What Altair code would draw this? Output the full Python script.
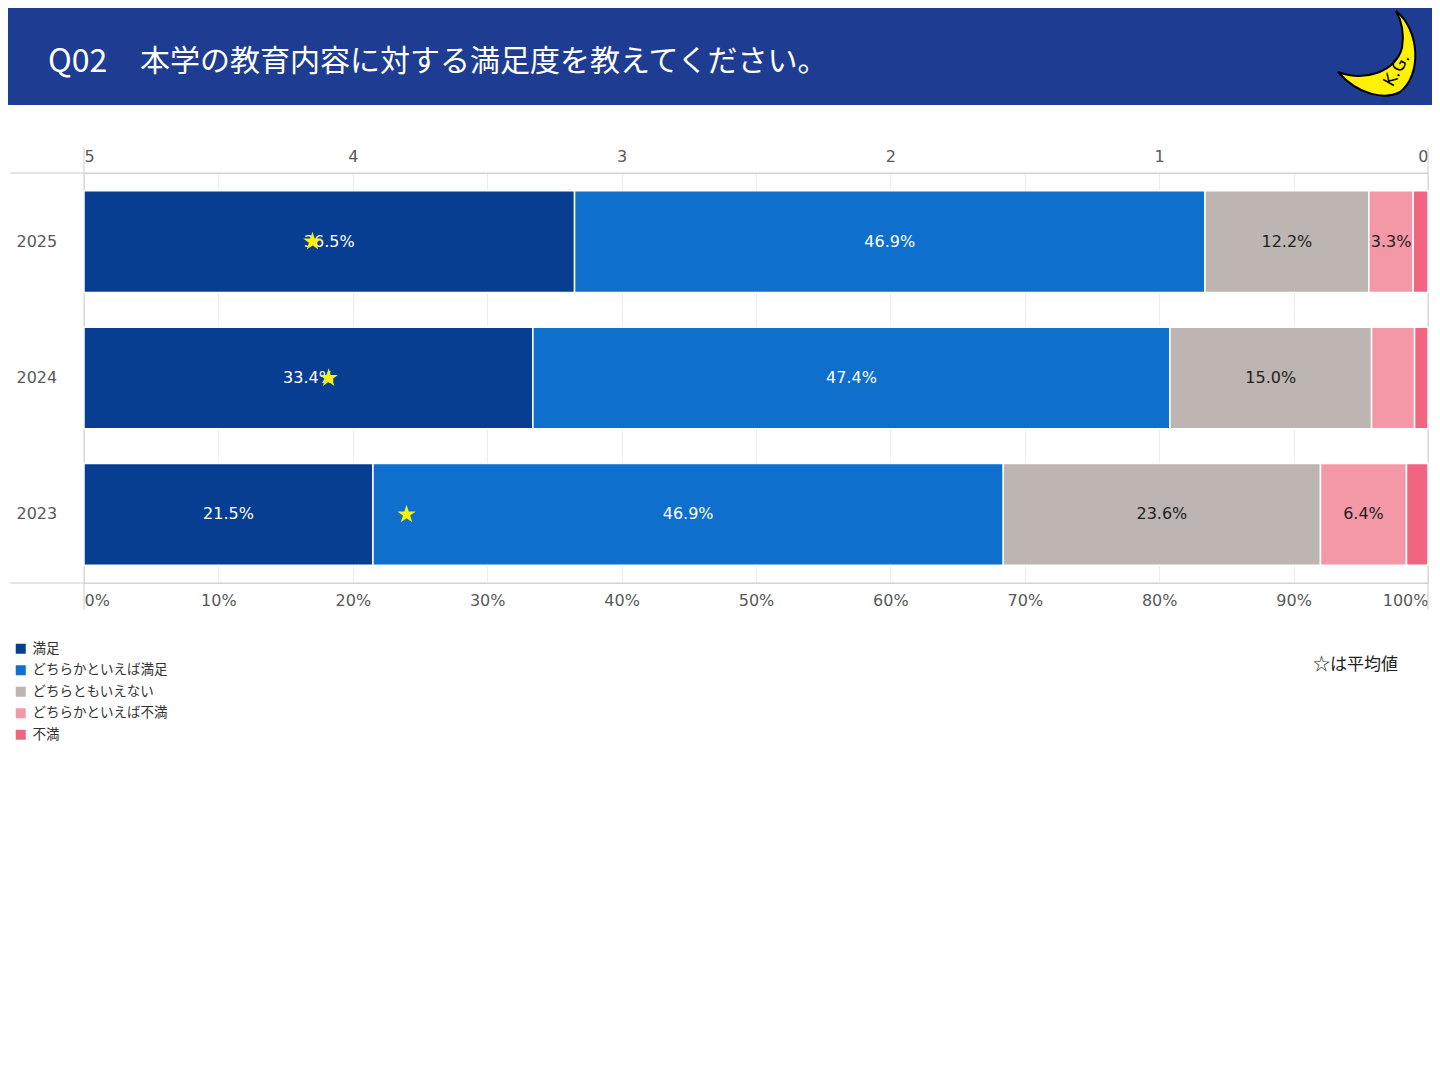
import altair as alt
import pandas as pd

years = ["2025", "2024", "2023"]
categories = ["満足", "どちらかといえば満足", "どちらともいえない", "どちらかといえば不満", "不満"]
colors = ["#073E91", "#0E6FCD", "#BDB5B1", "#F498A7", "#F26581"]
satisfied = [36.5, 33.4, 21.5]
somewhat_satisfied = [46.9, 47.4, 46.9]
neutral = [12.2, 15.0, 23.6]
somewhat_dissatisfied = [3.3, 3.2, 6.4]
dissatisfied = [1.1, 1.0, 1.6]
averages = [4.15, 4.09, 3.80]
hidden_labels = [("2024", "どちらかといえば不満"), ("2025", "不満"), ("2024", "不満"), ("2023", "不満")]
pct_ticks = [0, 10, 20, 30, 40, 50, 60, 70, 80, 90, 100]
score_ticks = [5, 4, 3, 2, 1, 0]
title_q = "Q02"
title_text = "本学の教育内容に対する満足度を教えてください。"
note_text = "☆は平均値"

series = [satisfied, somewhat_satisfied, neutral, somewhat_dissatisfied, dissatisfied]
rows = []
for ci, (cat, vals) in enumerate(zip(categories, series)):
    for yi, yr in enumerate(years):
        v = vals[yi]
        show = (yr, cat) not in hidden_labels
        rows.append({
            "year": yr, "category": cat, "order": ci, "value": v,
            "label": f"{v:.1f}%" if show else "",
            "dark": 1 if ci < 2 else 0,
        })
df = pd.DataFrame(rows)
avg_df = pd.DataFrame({"year": years, "avg": averages})
one = pd.DataFrame({"a": [0]})

FONT = "Noto Sans CJK JP"
NUMFONT = "DejaVu Sans"
W, H = 1344, 410
GRAY = "#595959"
LINE = "#CCCCCC"

y_enc = alt.Y("year:N", sort=years, title=None,
              scale=alt.Scale(paddingInner=0.255, paddingOuter=0.13),
              axis=alt.Axis(ticks=False, tickSize=0, domain=False, labelAlign="left",
                            labelPadding=68, labelFontSize=16, labelColor=GRAY,
                            labelFont=NUMFONT))

x_pct = alt.X("value:Q", stack="zero", title=None,
              scale=alt.Scale(domain=[0, 100], nice=False),
              axis=alt.Axis(values=pct_ticks, labelExpr="datum.value + '%'",
                            ticks=False, tickSize=0, domain=False, grid=True,
                            gridColor="#EDEDED", labelFlush=True, labelPadding=9,
                            labelFontSize=16, labelColor=GRAY, labelFont=NUMFONT))

bars = alt.Chart(df).mark_bar(stroke="white", strokeWidth=1.5).encode(
    x=x_pct,
    y=y_enc,
    color=alt.Color("category:N", sort=categories,
                    scale=alt.Scale(domain=categories, range=colors),
                    legend=alt.Legend(title=None, orient="none", legendX=-70, legendY=469,
                                      symbolType="square", symbolSize=100,
                                      symbolStrokeWidth=0, labelFontSize=13.5,
                                      labelColor="#333333", labelFont=FONT,
                                      rowPadding=6.5, labelOffset=5, padding=0)),
    order=alt.Order("order:Q"),
)

labels = alt.Chart(df).transform_stack(
    stack="value", groupby=["year"], as_=["v0", "v1"],
    sort=[alt.SortField("order", order="ascending")]
).transform_calculate(mid="(datum.v0 + datum.v1) / 2").mark_text(
    fontSize=16, font=NUMFONT
).encode(
    x=alt.X("mid:Q", scale=alt.Scale(domain=[0, 100], nice=False)),
    y=alt.Y("year:N", sort=years),
    text="label:N",
    color=alt.condition("datum.dark == 1", alt.value("white"), alt.value("#222222")),
)

star_path = ("M0,-1L0.2245,-0.309L0.951,-0.309L0.363,0.118L0.588,0.809L0,0.382"
             "L-0.588,0.809L-0.363,0.118L-0.951,-0.309L-0.2245,-0.309Z")
stars = alt.Chart(avg_df).mark_point(shape=star_path, filled=True, size=380,
                                     color="#FFF200", opacity=1).encode(
    x=alt.X("avg:Q", title=None, scale=alt.Scale(domain=[5, 0], nice=False),
            axis=alt.Axis(orient="top", values=score_ticks, ticks=False, tickSize=0,
                          domain=False, grid=False, labelFlush=True, labelPadding=9,
                          labelFontSize=16, labelColor=GRAY, labelFont=NUMFONT)),
    y=alt.Y("year:N", sort=years),
)

base = alt.Chart(one)
hlines = alt.layer(
    base.mark_rule(color=LINE, strokeWidth=1).encode(x=alt.value(-74), x2=alt.value(W), y=alt.value(0)),
    base.mark_rule(color=LINE, strokeWidth=1).encode(x=alt.value(-74), x2=alt.value(W), y=alt.value(H)),
    base.mark_rule(color=LINE, strokeWidth=1).encode(x=alt.value(0), y=alt.value(-26), y2=alt.value(H + 27)),
    base.mark_rule(color=LINE, strokeWidth=1).encode(x=alt.value(W), y=alt.value(-26), y2=alt.value(H + 27)),
)

header = base.mark_rect(color="#1F3C93").encode(
    x=alt.value(-76), x2=alt.value(W + 4), y=alt.value(-165), y2=alt.value(-68))
title_a = base.mark_text(align="left", baseline="middle", fontSize=32, font=FONT,
                         color="white").encode(
    x=alt.value(-36), y=alt.value(-111), text=alt.value(title_q))
title_b = base.mark_text(align="left", baseline="middle", fontSize=30, font=FONT,
                         color="white").encode(
    x=alt.value(56), y=alt.value(-111), text=alt.value(title_text))

moon_path = ("M0.36,-0.82C0.84,-0.44,0.88,0.46,0.44,0.80C0.14,0.96,-0.40,0.86,-0.80,0.40"
             "C-0.26,0.60,0.34,0.40,0.48,-0.08C0.54,-0.44,0.44,-0.68,0.36,-0.82Z")
moon = base.mark_point(shape=moon_path, filled=True, size=10000, fill="#FFF200",
                       stroke="black", strokeWidth=2, opacity=1).encode(
    x=alt.value(1294), y=alt.value(-121))
kg = base.mark_text(fontSize=17, font="DejaVu Sans", color="black", angle=300,
                    align="center", baseline="middle").encode(
    x=alt.value(1313), y=alt.value(-103), text=alt.value("K.G."))

note = base.mark_text(align="right", baseline="middle", fontSize=17, font=FONT,
                      color="#222222").encode(
    x=alt.value(1314), y=alt.value(492), text=alt.value(note_text))

main = alt.layer(bars, labels)
chart = alt.layer(
    header, title_a, title_b, moon, kg, hlines, main, stars, note
).resolve_scale(x="independent").properties(
    width=W, height=H,
    autosize=alt.AutoSizeParams(type="none"),
    padding={"left": 76, "top": 165, "right": 4, "bottom": 180},
).configure_view(stroke=None).configure(font=FONT)

chart.save("out.html", embed_options={"renderer": "svg", "actions": False})
